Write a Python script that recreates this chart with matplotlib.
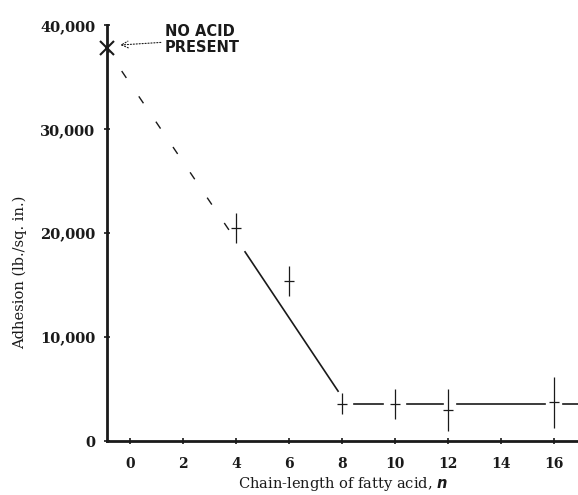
import matplotlib
matplotlib.use("Agg")
import matplotlib.pyplot as plt
import numpy as np

# Data
chain_n = [4, 6, 8, 10, 12, 16]
adhesion = [20500, 15400, 3600, 3550, 3000, 3750]
adhesion_err = [1400, 1450, 1000, 1450, 2000, 2450]
chain_err = [0.2, 0.2, 0.2, 0.2, 0.2, 0.2]

no_acid_n = -0.87
no_acid_value = 37800

# fitted line: dashed part then solid part, then level segments
dash_x = [-0.87, 4.0]
dash_y = [37700, 19300]
solid_x = [4.34, 7.85]
solid_y = [18200, 4800]
level_value = 3600
level_segments = [(8.45, 9.55), (10.45, 11.8), (12.35, 15.65), (16.35, 17.0)]

x_ticks = [0, 2, 4, 6, 8, 10, 12, 14, 16]
y_ticks = [0, 10000, 20000, 30000, 40000]
y_tick_labels = ["0", "10,000", "20,000", "30,000", "40,000"]

ink = "#1a1a1a"
serif = ["DejaVu Serif"]

fig = plt.figure(figsize=(5.78, 4.95), dpi=100)
ax = fig.add_axes([0.185, 0.109, 0.815, 0.840])

ax.plot(dash_x, dash_y, color=ink, lw=1.0, linestyle=(3, (6, 16)))
ax.plot(solid_x, solid_y, color=ink, lw=1.2)
for a, b in level_segments:
    ax.plot([a, b], [level_value, level_value], color=ink, lw=1.2)

ax.errorbar(chain_n, adhesion, yerr=adhesion_err, xerr=chain_err, fmt="none",
            ecolor=ink, elinewidth=0.9, capsize=0)

ax.plot([no_acid_n], [no_acid_value], marker="x", markersize=10, mew=1.5,
        color=ink, clip_on=False, zorder=5)

ax.annotate("NO ACID\nPRESENT", xy=(no_acid_n + 0.5, no_acid_value + 300),
            xytext=(1.32, 38600), textcoords="data",
            fontsize=10.5, fontweight="semibold", family=["DejaVu Sans"], color=ink,
            va="center", ha="left", linespacing=1.05,
            arrowprops=dict(arrowstyle="->", color=ink, lw=0.8,
                            linestyle=":", shrinkA=1, shrinkB=0,
                            mutation_scale=12))

ax.set_xlim(-0.87, 16.9)
ax.set_ylim(0, 40000)

ax.set_xticks(x_ticks)
ax.set_xticklabels([str(t) for t in x_ticks], family=serif, fontsize=10,
                   fontweight="bold", color=ink)
ax.set_yticks(y_ticks)
ax.set_yticklabels(y_tick_labels, family=serif, fontsize=10.5,
                   fontweight="bold", color=ink)
ax.tick_params(axis="both", direction="inout", length=5, width=1.2,
               colors=ink, pad=6)
ax.tick_params(axis="x", pad=9)

for s in ["top", "right"]:
    ax.spines[s].set_visible(False)
for s in ["left", "bottom"]:
    ax.spines[s].set_linewidth(2.0)
    ax.spines[s].set_color(ink)

ax.set_xlabel("Chain-length of fatty acid, $\\boldsymbol{n}$", family=serif,
              fontsize=10.5, color=ink, labelpad=3)
fig.text(20 / 578, 1 - 272 / 495, "Adhesion (lb./sq. in.)", rotation=90,
         family=serif, fontsize=10.5, color=ink, ha="center", va="center")

fig.savefig("out.png", dpi=100)
